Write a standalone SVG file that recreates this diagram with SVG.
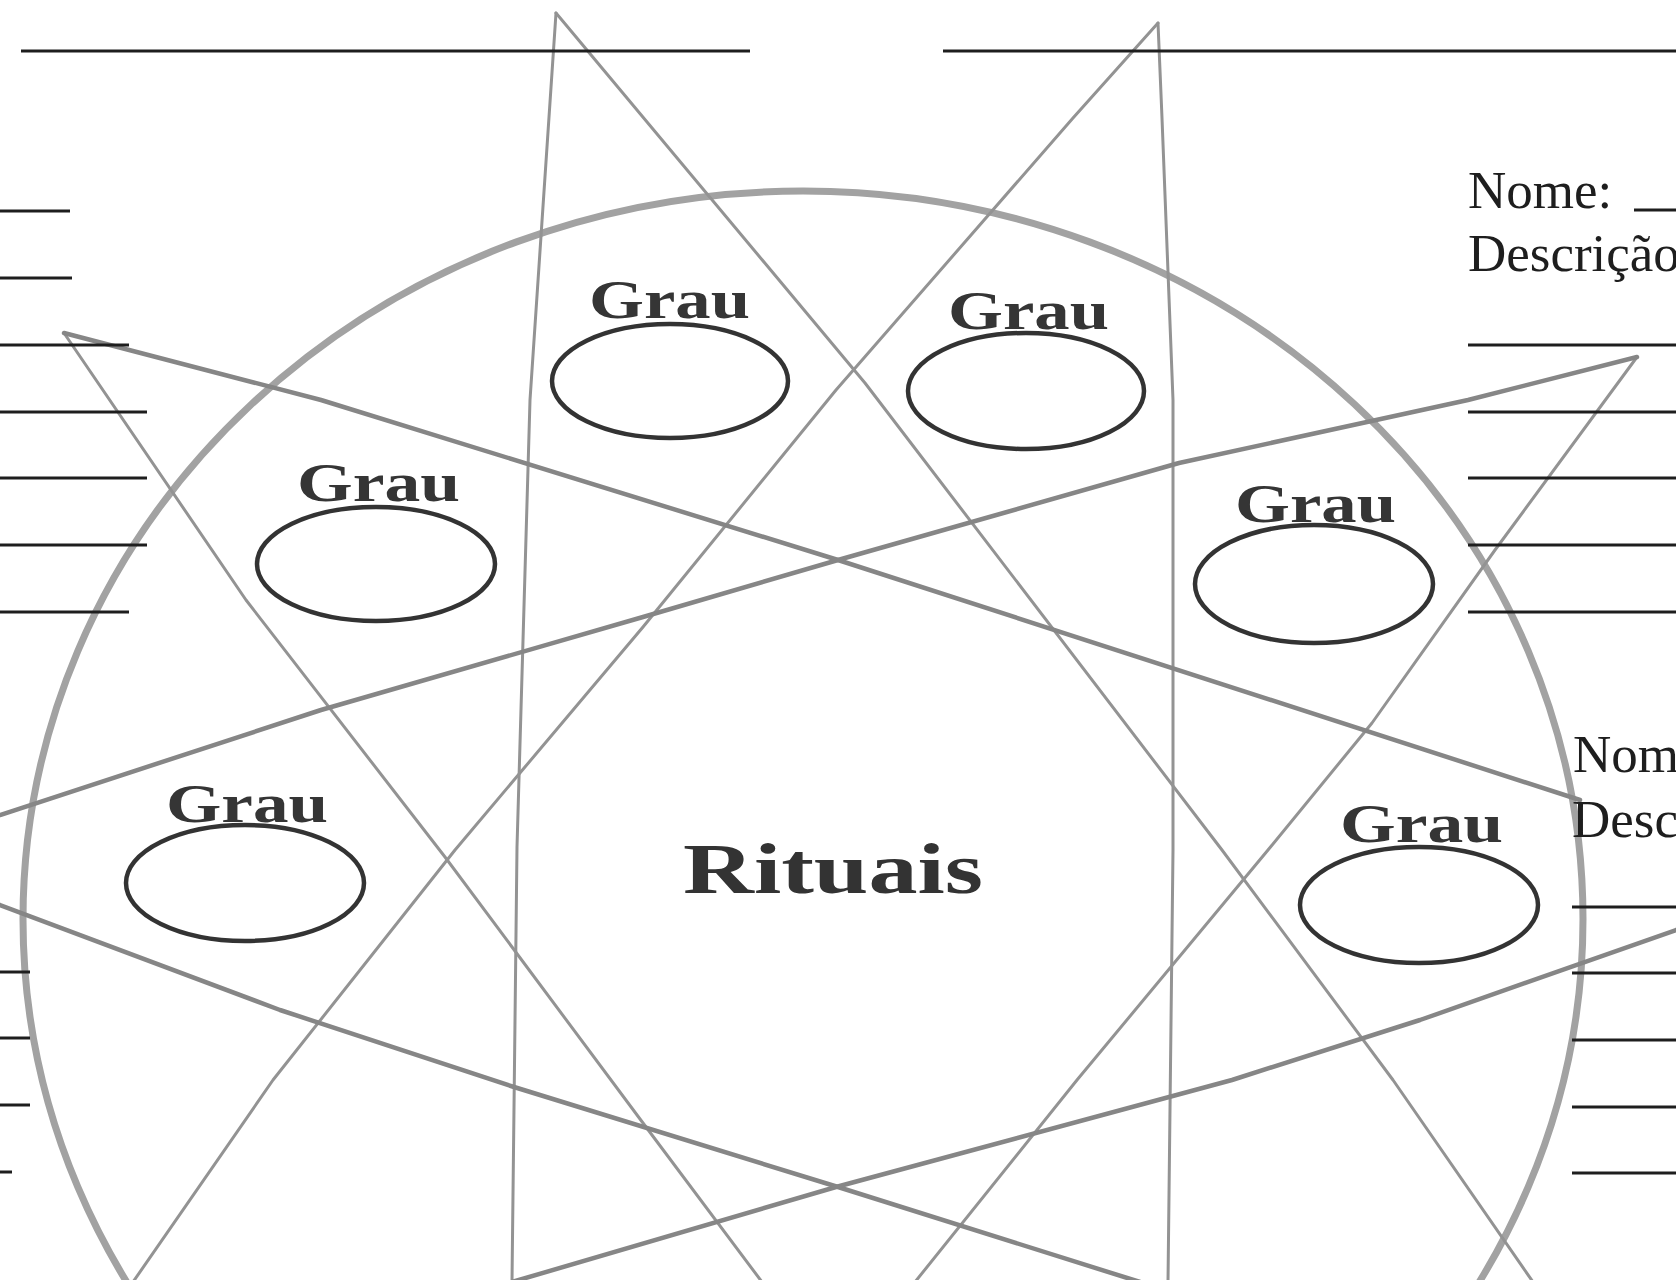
<svg xmlns="http://www.w3.org/2000/svg" width="1676" height="1280" viewBox="0 0 1676 1280">
<style>
.bg{fill:#ffffff}
.ring{fill:none;stroke:#a2a2a2;stroke-width:7}
.thin{fill:none;stroke:#939393;stroke-width:3;stroke-linejoin:round;stroke-linecap:round}
.thick{fill:none;stroke:#868686;stroke-width:4.5;stroke-linejoin:round;stroke-linecap:round}
.rule{stroke:#1e1e1e;stroke-width:3}
.oval{fill:none;stroke:#333333;stroke-width:4.5}
.grau{font-family:"Liberation Serif","Times New Roman",serif;font-weight:bold;font-size:54px;fill:#353535}
.title{font-family:"Liberation Serif","Times New Roman",serif;font-weight:bold;font-size:72px;fill:#333333}
.label{font-family:"Liberation Serif","Times New Roman",serif;font-size:53px;fill:#1e1e1e}
</style>
<rect class="bg" x="0" y="0" width="1676" height="1280"/>

<g id="circle">
  <ellipse class="ring" cx="803" cy="919" rx="780" ry="728"/>
</g>

<g id="connectors">
  <polyline class="thin" points="556,13 530,400 517,847 512,1282"/>
  <polyline class="thin" points="556,13 865,383 1222,850 1393,1080 1533,1282"/>
  <polyline class="thin" points="1158,23 1162,118 1173,400 1173,850 1168,1282"/>
  <polyline class="thin" points="1158,23 1073,118 836,390 643,627 455,850 273,1080 133,1282"/>
  <polyline class="thin" points="64,333 246,600 445,857 643,1123 762,1282"/>
  <polyline class="thin" points="1637,357 1495,550 1372,723 1268,850 1077,1080 915,1282"/>
  <polyline class="thick" points="64,333 321,400 838,560 1580,800"/>
  <polyline class="thick" points="1637,357 1468,400 1179,463 838,560 643,617 321,710 0,815 -40,828"/>
  <polyline class="thick" points="-40,890 0,905 280,1010 514,1087 838,1187 1140,1282"/>
  <polyline class="thick" points="512,1282 836,1187 1232,1080 1420,1020 1676,930 1700,921"/>
</g>

<g id="form-lines">
  <line class="rule" x1="21" y1="51" x2="750" y2="51"/>
  <line class="rule" x1="943" y1="51" x2="1676" y2="51"/>
  <line class="rule" x1="0" y1="211" x2="70" y2="211"/>
  <line class="rule" x1="0" y1="278" x2="72" y2="278"/>
  <line class="rule" x1="0" y1="345" x2="129" y2="345"/>
  <line class="rule" x1="0" y1="412" x2="147" y2="412"/>
  <line class="rule" x1="0" y1="478" x2="147" y2="478"/>
  <line class="rule" x1="0" y1="545" x2="147" y2="545"/>
  <line class="rule" x1="0" y1="612" x2="129" y2="612"/>
  <line class="rule" x1="0" y1="972" x2="30" y2="972"/>
  <line class="rule" x1="0" y1="1038" x2="30" y2="1038"/>
  <line class="rule" x1="0" y1="1105" x2="30" y2="1105"/>
  <line class="rule" x1="0" y1="1172" x2="12" y2="1172"/>
  <line class="rule" x1="1634" y1="210" x2="1676" y2="210"/>
  <line class="rule" x1="1468" y1="345" x2="1676" y2="345"/>
  <line class="rule" x1="1468" y1="412" x2="1676" y2="412"/>
  <line class="rule" x1="1468" y1="478" x2="1676" y2="478"/>
  <line class="rule" x1="1468" y1="545" x2="1676" y2="545"/>
  <line class="rule" x1="1468" y1="612" x2="1676" y2="612"/>
  <line class="rule" x1="1572" y1="907" x2="1676" y2="907"/>
  <line class="rule" x1="1572" y1="973" x2="1676" y2="973"/>
  <line class="rule" x1="1572" y1="1040" x2="1676" y2="1040"/>
  <line class="rule" x1="1572" y1="1107" x2="1676" y2="1107"/>
  <line class="rule" x1="1572" y1="1173" x2="1676" y2="1173"/>
</g>

<g id="grau-1">
  <text class="grau" x="589" y="318" textLength="161" lengthAdjust="spacingAndGlyphs">Grau</text>
  <ellipse class="oval" cx="670" cy="381" rx="118" ry="57"/>
</g>
<g id="grau-2">
  <text class="grau" x="948" y="329" textLength="161" lengthAdjust="spacingAndGlyphs">Grau</text>
  <ellipse class="oval" cx="1026" cy="391" rx="118" ry="58"/>
</g>
<g id="grau-3">
  <text class="grau" x="297" y="501" textLength="163" lengthAdjust="spacingAndGlyphs">Grau</text>
  <ellipse class="oval" cx="376" cy="564" rx="119" ry="57"/>
</g>
<g id="grau-4">
  <text class="grau" x="1235" y="522" textLength="161" lengthAdjust="spacingAndGlyphs">Grau</text>
  <ellipse class="oval" cx="1314" cy="584" rx="119" ry="59"/>
</g>
<g id="grau-5">
  <text class="grau" x="166" y="822" textLength="162" lengthAdjust="spacingAndGlyphs">Grau</text>
  <ellipse class="oval" cx="245" cy="883" rx="119" ry="58"/>
</g>
<g id="grau-6">
  <text class="grau" x="1340" y="842" textLength="163" lengthAdjust="spacingAndGlyphs">Grau</text>
  <ellipse class="oval" cx="1419" cy="905" rx="119" ry="58"/>
</g>

<g id="rituais">
  <text class="title" x="683" y="893" textLength="300" lengthAdjust="spacingAndGlyphs">Rituais</text>
</g>

<g id="form-upper">
  <text class="label" x="1468" y="208">Nome:</text>
  <text class="label" x="1468" y="271">Descrição</text>
</g>
<g id="form-lower">
  <text class="label" x="1573" y="772">Nom</text>
  <text class="label" x="1572" y="837">Desc</text>
</g>
</svg>
